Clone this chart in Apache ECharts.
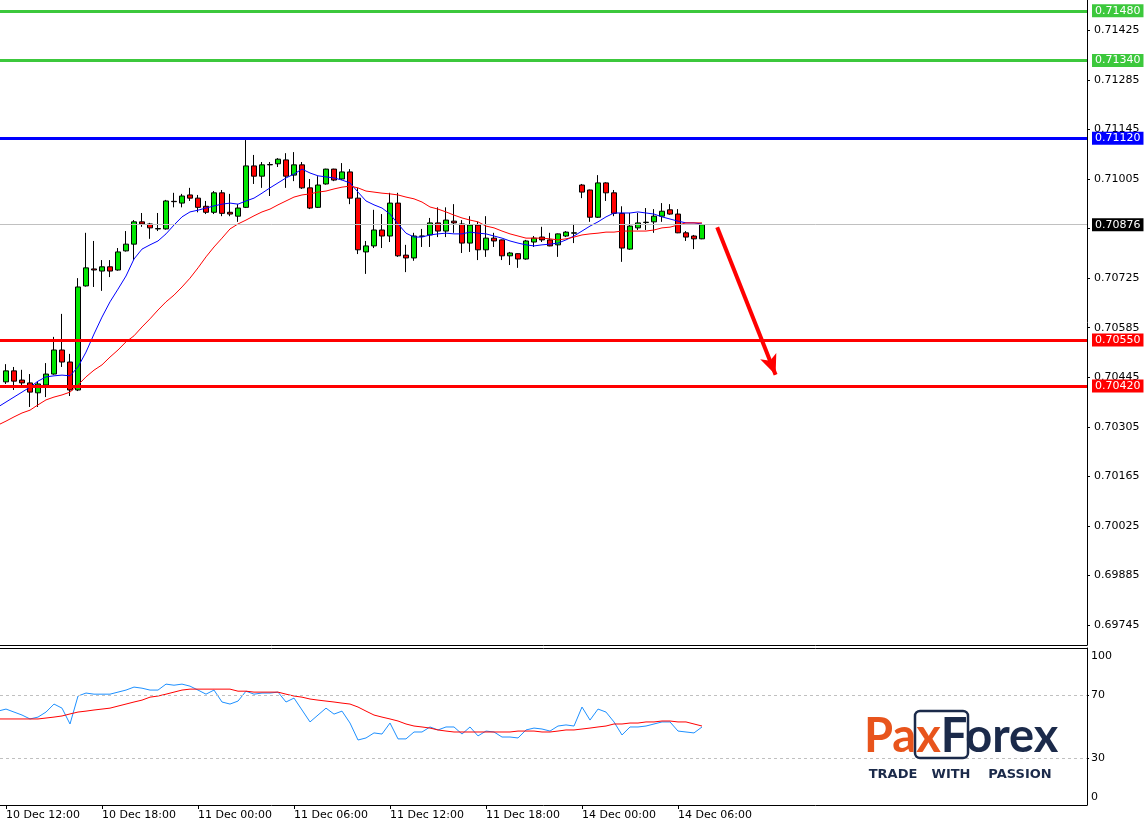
<!DOCTYPE html>
<html><head><meta charset="utf-8">
<script src="https://cdn.jsdelivr.net/npm/echarts@6/dist/echarts.min.js"></script>
<style>html,body{margin:0;padding:0;background:#fff}#c{width:1148px;height:825px}</style>
</head><body><div id="c"></div>
<script>
// ---- data (M30 candles, index 0 = 10 Dec 12:00) ----
const candles = [ // [open, close, low, high]
[0.70432,0.70463,0.70426,0.70482],[0.70463,0.70434,0.70409,0.70474],[0.70437,0.70429,0.70417,0.70466],[0.70429,0.70403,0.70361,0.70454],
[0.70401,0.70426,0.70361,0.70434],[0.70423,0.70454,0.70389,0.70485],[0.70454,0.70522,0.70452,0.70559],[0.70522,0.70488,0.70474,0.70624],
[0.70488,0.70409,0.70392,0.70511],[0.70409,0.70700,0.70406,0.70725],[0.70703,0.70754,0.70701,0.70853],[0.70751,0.70748,0.70700,0.70830],
[0.70745,0.70757,0.70689,0.70776],[0.70757,0.70745,0.70728,0.70776],[0.70748,0.70799,0.70746,0.70810],[0.70802,0.70821,0.70800,0.70858],
[0.70821,0.70884,0.70776,0.70889],[0.70884,0.70878,0.70870,0.70909],[0.70878,0.70867,0.70836,0.70881],[0.70865,0.70864,0.70858,0.70909],
[0.70864,0.70943,0.70862,0.70946],[0.70942,0.70941,0.70925,0.70966],[0.70937,0.70957,0.70925,0.70963],[0.70960,0.70951,0.70943,0.70980],
[0.70951,0.70925,0.70911,0.70960],[0.70928,0.70911,0.70906,0.70943],[0.70911,0.70966,0.70906,0.70971],[0.70966,0.70908,0.70900,0.70974],
[0.70911,0.70906,0.70900,0.70963],[0.70900,0.70923,0.70884,0.70934],[0.70925,0.71042,0.70923,0.71115],[0.71042,0.71013,0.70991,0.71073],
[0.71013,0.71045,0.70980,0.71053],[0.71045,0.71046,0.70957,0.71053],[0.71048,0.71061,0.71039,0.71064],[0.71059,0.71013,0.70980,0.71078],
[0.71016,0.71045,0.70999,0.71081],[0.71045,0.70980,0.70977,0.71053],[0.70980,0.70923,0.70920,0.71005],[0.70925,0.70988,0.70923,0.71013],
[0.70991,0.71033,0.70989,0.71034],[0.71033,0.71002,0.70999,0.71034],[0.71005,0.71025,0.71002,0.71050],[0.71025,0.70951,0.70934,0.71033],
[0.70951,0.70805,0.70793,0.70980],[0.70799,0.70816,0.70737,0.70830],[0.70816,0.70861,0.70810,0.70918],[0.70861,0.70844,0.70810,0.70906],
[0.70844,0.70937,0.70827,0.70966],[0.70937,0.70788,0.70785,0.70966],[0.70790,0.70782,0.70742,0.70819],[0.70782,0.70844,0.70774,0.70853],
[0.70843,0.70844,0.70813,0.70864],[0.70847,0.70881,0.70813,0.70895],[0.70881,0.70858,0.70841,0.70925],[0.70858,0.70889,0.70841,0.70925],
[0.70886,0.70881,0.70853,0.70934],[0.70878,0.70824,0.70796,0.70889],[0.70824,0.70875,0.70799,0.70900],[0.70875,0.70805,0.70776,0.70884],
[0.70805,0.70838,0.70785,0.70900],[0.70838,0.70830,0.70813,0.70853],[0.70833,0.70788,0.70776,0.70834],[0.70788,0.70796,0.70762,0.70799],
[0.70794,0.70779,0.70754,0.70795],[0.70779,0.70830,0.70777,0.70833],[0.70827,0.70838,0.70813,0.70844],[0.70841,0.70833,0.70827,0.70870],
[0.70833,0.70816,0.70815,0.70853],[0.70819,0.70850,0.70785,0.70851],[0.70844,0.70855,0.70841,0.70858],[0.70852,0.70853,0.70824,0.70878],
[0.70988,0.70968,0.70951,0.70991],[0.70974,0.70897,0.70884,0.70975],[0.70897,0.70994,0.70895,0.71016],[0.70994,0.70966,0.70943,0.70996],
[0.70966,0.70908,0.70900,0.70974],[0.70908,0.70810,0.70771,0.70928],[0.70807,0.70872,0.70805,0.70909],[0.70867,0.70881,0.70861,0.70909],
[0.70882,0.70883,0.70861,0.70923],[0.70884,0.70900,0.70853,0.70920],[0.70900,0.70914,0.70884,0.70937],[0.70918,0.70906,0.70904,0.70934],
[0.70906,0.70853,0.70852,0.70920],[0.70853,0.70841,0.70830,0.70858],[0.70844,0.70836,0.70807,0.70847],[0.70836,0.70876,0.70835,0.70877]
];
// indicator series start one bar before the first visible candle
const INDICATOR_START = -1;
const maFast = [0.70361,
0.70375,0.70389,0.70403,0.70417,0.70434,0.70446,0.70449,0.70451,0.70449,0.70474,
0.70516,0.70567,0.70615,0.70658,0.70694,0.70731,0.70779,0.70807,0.70819,0.70830,
0.70850,0.70875,0.70898,0.70912,0.70917,0.70923,0.70929,0.70934,0.70937,0.70934,
0.70943,0.70951,0.70965,0.70980,0.70994,0.71008,0.71019,0.71033,0.71022,0.71014,
0.71011,0.71008,0.71002,0.70994,0.70968,0.70943,0.70932,0.70923,0.70906,0.70878,
0.70852,0.70841,0.70841,0.70847,0.70850,0.70852,0.70850,0.70850,0.70855,0.70852,
0.70850,0.70844,0.70838,0.70830,0.70824,0.70819,0.70816,0.70819,0.70821,0.70824,
0.70833,0.70844,0.70858,0.70872,0.70884,0.70898,0.70909,0.70909,0.70909,0.70912,
0.70909,0.70906,0.70898,0.70892,0.70886,0.70881,0.70881,0.70878];
const maSlow = [0.70310,
0.70321,0.70333,0.70344,0.70352,0.70367,0.70381,0.70389,0.70395,0.70403,0.70423,
0.70446,0.70465,0.70480,0.70502,0.70522,0.70545,0.70562,0.70587,0.70610,0.70635,
0.70658,0.70677,0.70700,0.70725,0.70754,0.70785,0.70813,0.70838,0.70864,0.70878,
0.70889,0.70901,0.70912,0.70920,0.70932,0.70943,0.70954,0.70960,0.70963,0.70968,
0.70971,0.70977,0.70982,0.70985,0.70980,0.70971,0.70968,0.70965,0.70963,0.70960,
0.70954,0.70949,0.70940,0.70926,0.70920,0.70912,0.70903,0.70895,0.70889,0.70884,
0.70872,0.70867,0.70858,0.70850,0.70844,0.70838,0.70838,0.70838,0.70836,0.70833,
0.70836,0.70841,0.70847,0.70850,0.70852,0.70855,0.70855,0.70858,0.70858,0.70858,
0.70858,0.70861,0.70867,0.70869,0.70875,0.70881,0.70881,0.70881];
const rsi = [59.8,61.1,59.2,57.3,54.8,56.0,59.2,64.3,61.7,51.6,69.4,
71.3,70.6,70.6,70.6,71.9,73.2,75.1,74.4,73.2,73.2,
77.0,76.3,77.0,75.7,73.2,70.6,73.2,65.6,64.3,66.2,
72.5,70.6,71.3,71.3,71.9,65.6,68.1,60.5,52.9,57.3,
61.7,57.9,59.8,52.2,41.4,42.7,45.9,45.2,52.2,42.1,
42.1,46.5,46.5,49.7,47.8,49.7,49.7,45.2,49.7,44.0,
47.1,46.5,43.3,43.3,42.7,47.8,49.0,48.4,47.1,50.3,
51.0,50.3,62.4,54.1,61.1,59.2,52.9,44.6,49.7,49.7,
50.3,51.6,52.9,52.9,47.1,46.5,45.9,49.7];
const rsiMa = [54.8,54.8,54.8,54.8,54.8,54.8,55.4,56.0,56.7,58.0,59.2,
59.8,60.5,61.1,61.7,63.0,64.3,65.6,66.8,68.7,69.4,
70.6,71.9,73.2,73.8,73.8,73.8,73.8,73.8,73.8,72.5,
72.5,71.9,71.9,71.9,71.9,70.6,69.4,68.7,67.5,66.8,
66.2,65.6,64.9,64.3,62.4,59.8,57.3,56.0,54.8,53.5,
51.6,50.3,49.7,49.0,47.8,47.1,46.5,46.5,46.5,46.5,
46.5,46.5,46.5,46.5,47.1,47.1,47.1,46.5,46.5,47.1,
47.8,47.8,48.4,49.0,49.7,50.3,51.6,51.6,52.2,52.2,
52.9,52.9,53.5,53.5,52.9,52.9,51.6,50.3];
const xTickIndex = [0,12,24,36,48,60,72,84];
const xTickLabels = ['10 Dec 12:00','10 Dec 18:00','11 Dec 00:00','11 Dec 06:00','11 Dec 12:00','11 Dec 18:00','14 Dec 00:00','14 Dec 06:00'];
const priceTicks = [0.71425,0.71285,0.71145,0.71005,0.70865,0.70725,0.70585,0.70445,0.70305,0.70165,0.70025,0.69885,0.69745];
const rsiTicks = [0,30,70,100];
const rsiLevels = [70,30];
const levels = [0.7148,0.7134,0.7112,0.7055,0.7042];
const levelColors = ['#3CC83C','#3CC83C','#0000FF','#FF0000','#FF0000'];
const currentPrice = 0.70876;
const arrowFrom = [88.9, 0.70869];
const arrowTo = [96.2, 0.70452];

// ---- chart ----
const FONT = 'DejaVu Sans';
const X_MIN = -0.75, X_MAX = 135.125;
const chart = echarts.init(document.getElementById('c'), null, {renderer:'canvas'});
const markLabel = (txt,bg)=>({show:true, position:'end', distance:5, formatter:txt, color:'#fff', backgroundColor:bg,
  fontFamily:FONT, fontSize:11, lineHeight:12, padding:[1,3,0,3]});
const levelData = levels.map((v,i)=>({yAxis:v, lineStyle:{color:levelColors[i], width:3, type:'solid'},
  label:markLabel(v.toFixed(5), levelColors[i])}));
levelData.unshift({yAxis:currentPrice, lineStyle:{color:'#C0C0C0', width:1, type:'solid'}, label:markLabel(currentPrice.toFixed(5), '#000')});

const toPairs = (arr, start)=>arr.map((v,i)=>[i+start, v]);
const axisLineBlack = {show:true, onZero:false, lineStyle:{color:'#000', width:1}};

chart.setOption({
  animation:false,
  backgroundColor:'#fff',
  grid:[
    {left:0, top:0, width:1087, height:645, containLabel:false, outerBoundsMode:'none'},
    {left:0, top:648, width:1087, height:157, containLabel:false, outerBoundsMode:'none'}
  ],
  xAxis:[
    {gridIndex:0, type:'value', min:X_MIN, max:X_MAX, axisLine:axisLineBlack, axisTick:{show:false}, axisLabel:{show:false}, splitLine:{show:false}},
    {gridIndex:1, type:'value', min:X_MIN, max:X_MAX, position:'bottom', axisLine:axisLineBlack,
      axisTick:{show:true, customValues:xTickIndex, length:4, lineStyle:{color:'#000'}},
      axisLabel:{show:true, customValues:xTickIndex, formatter:(v)=>xTickLabels[xTickIndex.indexOf(Math.round(v))]||'',
        align:'left', margin:5, fontFamily:FONT, fontSize:11, color:'#000'},
      splitLine:{show:false}},
    {gridIndex:1, type:'value', min:X_MIN, max:X_MAX, position:'top', axisLine:axisLineBlack, axisTick:{show:false}, axisLabel:{show:false}, splitLine:{show:false}}
  ],
  yAxis:[
    {gridIndex:0, type:'value', position:'right', min:0.696886, max:0.715107, axisLine:axisLineBlack,
      axisTick:{show:true, customValues:priceTicks, length:3, lineStyle:{color:'#000'}},
      axisLabel:{show:true, customValues:priceTicks, formatter:(v)=>v.toFixed(5), margin:7, fontFamily:FONT, fontSize:11, color:'#000'},
      splitLine:{show:false}},
    {gridIndex:1, type:'value', position:'right', min:0, max:100, axisLine:axisLineBlack,
      axisTick:{show:true, customValues:rsiLevels, length:2, lineStyle:{color:'#000'}},
      axisLabel:{show:true, customValues:rsiTicks, margin:4, fontFamily:FONT, fontSize:11, color:'#000',
        formatter:(v)=> v===100 ? '{t|100}' : (v===0 ? '{b|0}' : String(v)),
        rich:{t:{padding:[17,0,0,0], fontFamily:FONT, fontSize:11, color:'#000'}, b:{padding:[0,0,16,0], fontFamily:FONT, fontSize:11, color:'#000'}}},
      splitLine:{show:false}}
  ],
  series:[
    {type:'candlestick', name:'AUDUSD', xAxisIndex:0, yAxisIndex:0, barWidth:5,
      data:candles.map((c,i)=>[i, c[0], c[1], c[2], c[3]]),
      itemStyle:{color:'#00E600', color0:'#FF0000', borderColor:'#000', borderColor0:'#000', borderColorDoji:'#000', borderWidth:1},
      markLine:{silent:true, precision:5, symbol:['none','none'], animation:false, data:levelData}},
    {type:'line', name:'MA fast', xAxisIndex:0, yAxisIndex:0, data:toPairs(maFast, INDICATOR_START), showSymbol:false,
      lineStyle:{color:'#0000FF', width:1}, itemStyle:{color:'#0000FF'},
      markLine:{silent:true, precision:5, symbol:['none','arrow'], symbolSize:[13,20], animation:false,
        label:{show:false}, lineStyle:{color:'#FF0000', width:4, type:'solid'},
        data:[[{coord:arrowFrom},{coord:arrowTo}]]}},
    {type:'line', name:'MA slow', xAxisIndex:0, yAxisIndex:0, data:toPairs(maSlow, INDICATOR_START), showSymbol:false,
      lineStyle:{color:'#FF0000', width:1}, itemStyle:{color:'#FF0000'}},
    {type:'line', name:'RSI', xAxisIndex:1, yAxisIndex:1, data:toPairs(rsi, INDICATOR_START), showSymbol:false,
      lineStyle:{color:'#1E90FF', width:1}, itemStyle:{color:'#1E90FF'},
      markLine:{silent:true, symbol:['none','none'], animation:false, label:{show:false},
        lineStyle:{color:'#C0C0C0', width:1, type:[3,3]}, data:rsiLevels.map(v=>({yAxis:v}))}},
    {type:'line', name:'RSI MA', xAxisIndex:1, yAxisIndex:1, data:toPairs(rsiMa, INDICATOR_START), showSymbol:false,
      lineStyle:{color:'#FF0000', width:1}, itemStyle:{color:'#FF0000'}}
  ],
  graphic:[
    {type:'rect', shape:{x:915, y:711, width:53, height:47, r:5}, style:{fill:'none', stroke:'#1B2A4A', lineWidth:2.5}, z:10},
    {type:'text', x:864, y:713, z:11, style:{text:'{o|Pax}{n|Forex}', rich:{
      o:{fill:'#E8541C', fontSize:47, fontFamily:'Lato', fontWeight:'bold'},
      n:{fill:'#1B2A4A', fontSize:47, fontFamily:'Lato', fontWeight:'bold'}}}},
    {type:'text', x:893, y:768, z:11, style:{text:'TRADE', fill:'#1B2A4A', fontSize:13, fontFamily:FONT, fontWeight:'bold', align:'center'}},
    {type:'text', x:951, y:768, z:11, style:{text:'WITH', fill:'#1B2A4A', fontSize:13, fontFamily:FONT, fontWeight:'bold', align:'center'}},
    {type:'text', x:1020, y:768, z:11, style:{text:'PASSION', fill:'#1B2A4A', fontSize:13, fontFamily:FONT, fontWeight:'bold', align:'center'}}
  ]
});
</script>
</body></html>
